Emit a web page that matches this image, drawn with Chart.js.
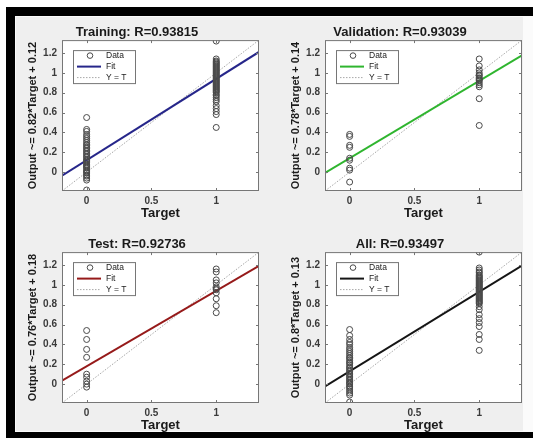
<!DOCTYPE html>
<html>
<head>
<meta charset="utf-8">
<script src="https://cdn.jsdelivr.net/npm/chart.js@4.4.1/dist/chart.umd.min.js"></script>
<style>
  html, body { margin: 0; padding: 0; background: #ffffff; overflow: hidden; }
  body { width: 533px; height: 438px; position: relative; font-family: "Liberation Sans", Arial, sans-serif; }
  #frame {
    position: absolute; left: 6px; top: 7px; width: 560px; height: 416px;
    border-top: 9px solid #000; border-left: 9px solid #000; border-bottom: 6px solid #000;
    background: #fbfbfb;
  }
  #inner { position: absolute; left: 16px; top: 17px; width: 507px; height: 414px; background: #efefef; }
  .panel { position: absolute; width: 254px; height: 205px; }
</style>
</head>
<body>
<div id="frame"></div>
<div id="inner"></div>
<div class="panel" style="left:15px;top:17px"><canvas id="c0"></canvas></div>
<div class="panel" style="left:278px;top:17px"><canvas id="c1"></canvas></div>
<div class="panel" style="left:15px;top:229px"><canvas id="c2"></canvas></div>
<div class="panel" style="left:278px;top:229px"><canvas id="c3"></canvas></div>
<script>
// valores
const PANEL_TITLES = ['Training: R=0.93815', 'Validation: R=0.93039', 'Test: R=0.92736', 'All: R=0.93497'];
const Y_LABELS = [
  'Output ~= 0.82*Target + 0.12',
  'Output ~= 0.78*Target + 0.14',
  'Output ~= 0.76*Target + 0.18',
  'Output ~= 0.8*Target + 0.13'
];
const FIT_SLOPES = [0.82, 0.78, 0.76, 0.8];
const FIT_INTERCEPTS = [0.12, 0.14, 0.18, 0.13];
const FIT_COLORS = ['#26268a', '#2fb52f', '#961a1a', '#151515'];
const LEGEND_LABELS = ['Data', 'Fit', 'Y = T'];
const TARGETS = [0, 1];
const X_TICKS = [0, 0.5, 1];
const Y_TICKS = [0, 0.2, 0.4, 0.6, 0.8, 1, 1.2];
const AXIS_RANGE = [-0.19, 1.33];

// saídas da rede para alvo 0 e alvo 1
const TRAIN_T0 = [0.55, 0.43, 0.41, 0.38, 0.36, 0.34, 0.32, 0.30, 0.28, 0.27, 0.25, 0.24, 0.22, 0.21, 0.19, 0.18,
  0.16, 0.15, 0.13, 0.12, 0.11, 0.10, 0.08, 0.07, 0.06, 0.05, 0.04, 0.02, 0.01, 0.00, -0.01, -0.03, -0.04, -0.06, -0.08, -0.18];
const TRAIN_T1 = [1.32, 1.14, 1.12, 1.11, 1.10, 1.09, 1.08, 1.07, 1.06, 1.05, 1.04, 1.03, 1.02, 1.01, 1.00, 0.99,
  0.98, 0.97, 0.96, 0.95, 0.94, 0.93, 0.92, 0.91, 0.90, 0.89, 0.88, 0.87, 0.86, 0.85, 0.84, 0.83, 0.82, 0.81, 0.80,
  0.78, 0.77, 0.75, 0.73, 0.71, 0.67, 0.64, 0.61, 0.58, 0.45];
const VAL_T0 = [0.38, 0.36, 0.27, 0.25, 0.14, 0.12, 0.04, 0.02, -0.10];
const VAL_T1 = [1.14, 1.07, 1.03, 1.00, 0.98, 0.97, 0.95, 0.94, 0.93, 0.92, 0.90, 0.88, 0.86, 0.74, 0.47];
const TEST_T0 = [0.54, 0.45, 0.35, 0.27, 0.10, 0.07, 0.03, 0.00, -0.03];
const TEST_T1 = [1.16, 1.13, 1.05, 1.02, 0.98, 0.96, 0.95, 0.92, 0.86, 0.79, 0.72];
const ALL_T0 = [0.55, 0.49, 0.45, 0.42, 0.40, 0.37, 0.35, 0.33, 0.31, 0.29, 0.27, 0.26, 0.24, 0.22, 0.21, 0.19,
  0.17, 0.16, 0.14, 0.13, 0.11, 0.10, 0.08, 0.07, 0.05, 0.04, 0.02, 0.01, 0.00, -0.02, -0.03, -0.05, -0.07, -0.09, -0.11, -0.18];
const ALL_T1 = [1.33, 1.17, 1.15, 1.13, 1.12, 1.10, 1.09, 1.08, 1.07, 1.06, 1.05, 1.04, 1.03, 1.02, 1.01, 1.00,
  0.99, 0.98, 0.97, 0.96, 0.95, 0.94, 0.93, 0.92, 0.91, 0.90, 0.89, 0.88, 0.87, 0.86, 0.85, 0.84, 0.83, 0.82, 0.81,
  0.78, 0.75, 0.70, 0.66, 0.62, 0.58, 0.50, 0.45, 0.34];

const PANEL_DATA = [[TRAIN_T0, TRAIN_T1], [VAL_T0, VAL_T1], [TEST_T0, TEST_T1], [ALL_T0, ALL_T1]];

const FONT = '"Liberation Sans", Arial, sans-serif';
const BOX_COLOR = '#767676';
const POINT_COLOR = '#4a4a4a';

// fundo branco na área do gráfico
const areaBackground = {
  id: 'areaBackground',
  beforeDraw(chart) {
    const { ctx, chartArea: a } = chart;
    ctx.save();
    ctx.fillStyle = '#ffffff';
    ctx.fillRect(a.left, a.top, a.right - a.left, a.bottom - a.top);
    ctx.restore();
  }
};

// caixa do eixo com marcas para dentro, estilo MATLAB
const axesBox = {
  id: 'axesBox',
  afterDatasetsDraw(chart) {
    const { ctx, chartArea: a, scales } = chart;
    const len = 3;
    ctx.save();
    ctx.strokeStyle = BOX_COLOR;
    ctx.lineWidth = 1;
    ctx.strokeRect(a.left + 0.5, a.top + 0.5, a.right - a.left - 1, a.bottom - a.top - 1);
    ctx.beginPath();
    X_TICKS.forEach(v => {
      const px = Math.round(scales.x.getPixelForValue(v)) + 0.5;
      ctx.moveTo(px, a.bottom); ctx.lineTo(px, a.bottom - len);
      ctx.moveTo(px, a.top); ctx.lineTo(px, a.top + len);
    });
    Y_TICKS.forEach(v => {
      const py = Math.round(scales.y.getPixelForValue(v)) + 0.5;
      ctx.moveTo(a.left, py); ctx.lineTo(a.left + len, py);
      ctx.moveTo(a.right, py); ctx.lineTo(a.right - len, py);
    });
    ctx.stroke();
    ctx.restore();
  }
};

// legenda dentro do gráfico com moldura
const boxedLegend = {
  id: 'boxedLegend',
  afterDraw(chart) {
    const { ctx, chartArea: a } = chart;
    const x = a.left + 11, y = a.top + 10, w = 62, h = 33;
    const sets = chart.data.datasets;
    ctx.save();
    ctx.fillStyle = '#ffffff';
    ctx.fillRect(x, y, w, h);
    ctx.strokeStyle = BOX_COLOR;
    ctx.lineWidth = 1;
    ctx.strokeRect(x + 0.5, y + 0.5, w, h);
    ctx.font = '8.5px ' + FONT;
    ctx.textBaseline = 'middle';
    ctx.fillStyle = '#222';
    LEGEND_LABELS.forEach((label, i) => {
      const cy = y + 5.5 + i * 11;
      if (i === 0) {
        ctx.beginPath();
        ctx.strokeStyle = POINT_COLOR;
        ctx.arc(x + 17, cy, 2.8, 0, Math.PI * 2);
        ctx.stroke();
      } else {
        ctx.beginPath();
        ctx.strokeStyle = sets[i].borderColor;
        ctx.lineWidth = sets[i].borderWidth;
        ctx.setLineDash(sets[i].borderDash || []);
        ctx.moveTo(x + 4, cy); ctx.lineTo(x + 28, cy);
        ctx.stroke();
        ctx.setLineDash([]);
        ctx.lineWidth = 1;
      }
      ctx.fillText(label, x + 33, cy);
    });
    ctx.restore();
  }
};

function buildDatasets(i) {
  const points = [];
  PANEL_DATA[i].forEach((outputs, k) => {
    outputs.forEach(v => points.push({ x: TARGETS[k], y: v }));
  });
  const [lo, hi] = AXIS_RANGE;
  return [
    {
      label: LEGEND_LABELS[0],
      data: points,
      showLine: false,
      pointStyle: 'circle',
      pointRadius: 3,
      pointBorderWidth: 1,
      pointBorderColor: POINT_COLOR,
      pointBackgroundColor: 'rgba(0,0,0,0)'
    },
    {
      label: LEGEND_LABELS[1],
      data: [
        { x: lo, y: FIT_SLOPES[i] * lo + FIT_INTERCEPTS[i] },
        { x: hi, y: FIT_SLOPES[i] * hi + FIT_INTERCEPTS[i] }
      ],
      showLine: true,
      pointRadius: 0,
      borderColor: FIT_COLORS[i],
      borderWidth: 2
    },
    {
      label: LEGEND_LABELS[2],
      data: [{ x: lo, y: lo }, { x: hi, y: hi }],
      showLine: true,
      pointRadius: 0,
      borderColor: '#a8a8a8',
      borderWidth: 1,
      borderDash: [1.5, 1.5]
    }
  ];
}

function tickLabel(v) {
  return Number(v.toFixed(2)).toString();
}

function createPanel(i) {
  const ctx = document.getElementById('c' + i).getContext('2d');
  return new Chart(ctx, {
    type: 'scatter',
    data: { datasets: buildDatasets(i) },
    options: {
      responsive: true,
      maintainAspectRatio: false,
      animation: false,
      events: [],
      layout: { padding: { top: 0, right: 10, bottom: 0, left: 0 } },
      plugins: {
        legend: { display: false },
        tooltip: { enabled: false },
        title: {
          display: true,
          text: PANEL_TITLES[i],
          color: '#1a1a1a',
          font: { family: FONT, size: 13, weight: 'bold' },
          padding: { top: 7.5, bottom: 0 }
        }
      },
      scales: {
        x: {
          type: 'linear',
          min: AXIS_RANGE[0],
          max: AXIS_RANGE[1],
          grid: { display: false, drawTicks: false },
          border: { display: false },
          afterBuildTicks: s => { s.ticks = X_TICKS.map(v => ({ value: v })); },
          afterFit: s => { s.height = 31; },
          ticks: {
            padding: 4,
            color: '#3a3a3a',
            font: { family: FONT, size: 10, weight: 'bold' },
            callback: tickLabel
          },
          title: {
            display: true,
            text: 'Target',
            color: '#1a1a1a',
            font: { family: FONT, size: 13, weight: 'bold' },
            padding: { top: 0, bottom: 1.2 }
          }
        },
        y: {
          type: 'linear',
          min: AXIS_RANGE[0],
          max: AXIS_RANGE[1],
          grid: { display: false, drawTicks: false },
          border: { display: false },
          afterBuildTicks: s => { s.ticks = Y_TICKS.map(v => ({ value: v })); },
          afterFit: s => { s.width = 47; },
          ticks: {
            padding: 5,
            color: '#3a3a3a',
            font: { family: FONT, size: 10, weight: 'bold' },
            callback: tickLabel
          },
          title: {
            display: true,
            text: Y_LABELS[i],
            color: '#1a1a1a',
            font: { family: FONT, size: 11, weight: 'bold' },
            padding: { top: 11.4, bottom: 0 }
          }
        }
      }
    },
    plugins: [areaBackground, axesBox, boxedLegend]
  });
}

PANEL_TITLES.forEach((_, i) => createPanel(i));
</script>
</body>
</html>
